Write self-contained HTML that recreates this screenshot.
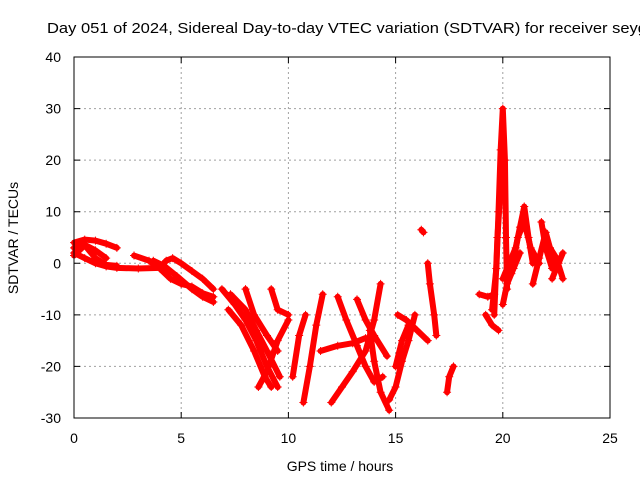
<!DOCTYPE html>
<html><head><meta charset="utf-8"><style>
body{margin:0;background:#fff}
svg{display:block;font-family:"Liberation Sans",sans-serif}
</style></head><body>
<svg width="640" height="480" viewBox="0 0 640 480">
<rect width="640" height="480" fill="#fff"/>
<text x="47" y="33" font-size="15" textLength="600" lengthAdjust="spacingAndGlyphs" fill="#000">Day 051 of 2024, Sidereal Day-to-day VTEC variation (SDTVAR) for receiver seyg</text>
<g id="grid"></g>
<g id="series"></g>
<rect x="74" y="57" width="536" height="361" fill="none" stroke="#000" stroke-width="1"/>
<g id="axes" font-size="14" fill="#000"></g>
<text x="340" y="471" font-size="14" text-anchor="middle">GPS time / hours</text>
<text transform="translate(18,238) rotate(-90)" font-size="14" text-anchor="middle">SDTVAR / TECUs</text>
</svg>
<script>
const xTicks=[0,5,10,15,20,25];
const yTicks=[-30,-20,-10,0,10,20,30,40];
const tracks=[
[[0,4],[0.5,4.6],[1,4.4],[1.5,3.8],[2,3]],
[[0,3],[0.5,3.6],[1,2.5],[1.5,1]],
[[0,2],[0.5,1],[1,0],[1.5,-0.6],[2,-0.9],[3,-1],[4,-0.9],[4.3,0.5],[4.6,1],[5,0],[5.5,-1.5],[6,-3],[6.5,-5]],
[[0,1.5],[0.5,3.5],[1,1],[1.5,-0.3],[2,-0.5]],
[[2.8,1.5],[3.5,0.5],[4,-1],[4.5,-3],[5,-4],[5.5,-4.5],[6,-5.8],[6.5,-6.5]],
[[3.7,0.5],[4.2,-0.5],[4.8,-2.5],[5.5,-5],[6,-6.5],[6.5,-7.5]],
[[6.9,-5],[7.5,-8],[8,-11],[8.5,-15],[9,-20],[9.5,-24]],
[[7.3,-6],[8,-9],[8.5,-13],[9,-17],[9.6,-22]],
[[7.2,-9],[7.8,-12],[8.4,-17],[8.9,-22],[9.2,-24]],
[[8,-5],[8.4,-10],[9,-14],[9.5,-17]],
[[8.6,-24],[9,-21],[9.5,-15],[10,-11]],
[[9.2,-5],[9.5,-9],[10,-10]],
[[10.7,-27],[11,-20],[11.3,-12],[11.6,-6]],
[[10.2,-22],[10.5,-14],[10.8,-10]],
[[12.3,-6.5],[12.7,-11],[13.2,-16],[13.6,-20],[14,-23],[14.4,-22]],
[[11.5,-17],[12.3,-16],[13,-15.5],[13.6,-14.5]],
[[12,-27],[12.5,-24],[13,-21],[13.6,-17],[14,-11],[14.3,-4]],
[[13.2,-7],[13.6,-11],[14,-14],[14.6,-18]],
[[13.8,-13],[14,-19],[14.3,-25],[14.7,-28.5]],
[[14.7,-26.5],[15,-24],[15.3,-19],[15.6,-15],[15.9,-10]],
[[15,-20],[15.3,-15],[15.6,-12]],
[[15.1,-10],[15.5,-11],[16,-13],[16.5,-15]],
[[16.2,6.5],[16.3,6]],
[[16.5,0],[16.6,-4],[16.8,-10],[16.9,-14]],
[[17.4,-25],[17.5,-22],[17.7,-20]],
[[18.9,-6],[19.3,-6.5],[19.6,-6]],
[[19.2,-10],[19.5,-12],[19.8,-13]],
[[19.5,-9],[19.7,-1],[19.8,10],[19.9,22],[20,30],[20.1,20],[20.15,5],[20.2,-5]],
[[19.6,-10],[19.75,5],[19.9,15]],
[[20,-8],[20.2,-4],[20.5,-1],[20.8,2]],
[[20,-3],[20.3,0],[20.6,3],[20.8,7],[21,11],[21.2,5],[21.4,0]],
[[20.4,-2],[20.7,5],[21,8],[21.3,3],[21.7,0]],
[[21.4,-4],[21.7,1],[22,6],[22.2,3],[22.4,0]],
[[21.8,8],[22,3],[22.3,-1]],
[[22.2,3],[22.5,1],[22.8,-3]],
[[22.3,-3],[22.6,0],[22.8,2]]
];
const X0=74,X1=610,Y0=418,Y1=57;
const sx=v=>X0+(v-0)/25*(X1-X0);
const sy=v=>Y0-(v+30)/70*(Y0-Y1);
const NS="http://www.w3.org/2000/svg";
const grid=document.getElementById('grid'),axes=document.getElementById('axes'),ser=document.getElementById('series');
xTicks.forEach(t=>{
 const x=sx(t);
 if(t>0&&t<25){const l=document.createElementNS(NS,'line');
 
 
 l.setAttribute('x1',x);l.setAttribute('x2',x);l.setAttribute('y1',Y1);l.setAttribute('y2',Y0);
 l.setAttribute('stroke','#a0a0a0');l.setAttribute('stroke-dasharray','2,3');grid.appendChild(l);}
 const tk=document.createElementNS(NS,'path');
 
 
 tk.setAttribute('d',`M${x},${Y0}v-6M${x},${Y1}v6`);tk.setAttribute('stroke','#000');axes.appendChild(tk);
 const tx=document.createElementNS(NS,'text');
 
 
 tx.setAttribute('x',x);tx.setAttribute('y',443);tx.setAttribute('text-anchor','middle');tx.textContent=t;axes.appendChild(tx);
});
yTicks.forEach(t=>{
 const y=sy(t);
 if(t>-30&&t<40){const l=document.createElementNS(NS,'line');
 
 
 l.setAttribute('x1',X0);l.setAttribute('x2',X1);l.setAttribute('y1',y);l.setAttribute('y2',y);
 l.setAttribute('stroke','#a0a0a0');l.setAttribute('stroke-dasharray','2,3');grid.appendChild(l);}
 const tk=document.createElementNS(NS,'path');
 
 
 tk.setAttribute('d',`M${X0},${y}h6M${X1},${y}h-6`);tk.setAttribute('stroke','#000');axes.appendChild(tk);
 const tx=document.createElementNS(NS,'text');
 
 
 tx.setAttribute('x',61);tx.setAttribute('y',y+5);tx.setAttribute('text-anchor','end');tx.textContent=t;axes.appendChild(tx);
});
tracks.forEach(tr=>{
 const p=document.createElementNS(NS,'polyline');
 
 
 p.setAttribute('points',tr.map(d=>sx(d[0])+','+sy(d[1])).join(' '));
 p.setAttribute('fill','none');p.setAttribute('stroke','#f00');p.setAttribute('stroke-width','6');
 p.setAttribute('stroke-linecap','round');p.setAttribute('stroke-linejoin','round');ser.appendChild(p);
 tr.forEach(d=>{
  const m=document.createElementNS(NS,'path');
  
  
  const x=sx(d[0]),y=sy(d[1]);
  m.setAttribute('d',`M${x-4},${y}h8M${x},${y-4}v8`);m.setAttribute('stroke','#f00');ser.appendChild(m);
 });
});
</script>
</body></html>
